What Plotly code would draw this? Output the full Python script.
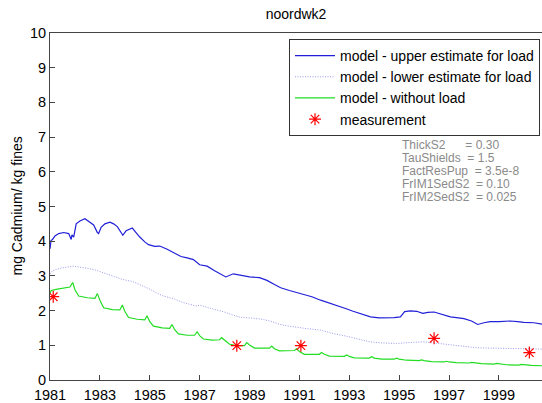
import plotly.graph_objects as go

# ---- data ----
upper_t = [1981.00, 1981.04, 1981.10, 1981.20, 1981.35, 1981.55, 1981.75, 1981.85, 1981.88, 1981.95,
           1982.05, 1982.20, 1982.40, 1982.55, 1982.75, 1982.90, 1982.95, 1983.05, 1983.20, 1983.40,
           1983.55, 1983.70, 1983.85, 1983.92, 1984.05, 1984.30, 1984.45, 1984.60, 1984.80, 1984.95,
           1985.20, 1985.40, 1985.70, 1986.00, 1986.25, 1986.50, 1986.75, 1987.00, 1987.30, 1987.60,
           1987.85, 1988.05, 1988.35, 1988.70, 1989.00, 1989.40, 1989.70, 1990.00, 1990.25, 1990.60,
           1990.90, 1991.15, 1991.50, 1991.85, 1992.20, 1992.50, 1992.85, 1993.15, 1993.50, 1993.85,
           1994.20, 1994.50, 1994.80, 1995.05, 1995.22, 1995.45, 1995.70, 1995.95, 1996.15, 1996.40,
           1996.70, 1997.05, 1997.30, 1997.60, 1997.90, 1998.15, 1998.40, 1998.65, 1999.00, 1999.45,
           1999.75, 2000.00, 2000.40, 2000.73]
upper_v = [3.78, 4.02, 4.05, 4.15, 4.22, 4.25, 4.22, 4.05, 4.18, 4.12,
           4.50, 4.58, 4.65, 4.58, 4.47, 4.25, 4.22, 4.40, 4.50, 4.55,
           4.50, 4.42, 4.22, 4.17, 4.30, 4.38, 4.25, 4.12, 3.98, 3.90,
           3.85, 3.86, 3.77, 3.65, 3.56, 3.52, 3.47, 3.32, 3.28, 3.15,
           3.05, 2.97, 3.06, 3.02, 2.97, 2.95, 2.87, 2.75, 2.66, 2.58,
           2.52, 2.46, 2.40, 2.30, 2.22, 2.16, 2.06, 1.98, 1.90, 1.82,
           1.79, 1.79, 1.80, 1.82, 1.97, 1.99, 1.98, 1.92, 1.95, 1.96,
           1.89, 1.82, 1.80, 1.77, 1.70, 1.60, 1.65, 1.68, 1.68, 1.70,
           1.68, 1.66, 1.65, 1.61]

lower_t = [1981.00, 1981.10, 1981.40, 1981.70, 1981.93, 1982.20, 1982.50, 1982.87, 1983.20, 1983.54,
           1983.90, 1984.34, 1984.70, 1985.00, 1985.30, 1985.54, 1985.94, 1986.30, 1986.88, 1987.00,
           1987.50, 1987.95, 1988.30, 1988.62, 1989.15, 1989.50, 1989.82, 1990.22, 1990.60, 1990.89,
           1991.30, 1991.83, 1992.40, 1992.90, 1993.40, 1993.83, 1994.30, 1994.90, 1995.40, 1995.97,
           1996.50, 1997.04, 1997.60, 1998.10, 1998.60, 1999.18, 1999.80, 2000.73]
lower_v = [3.05, 3.15, 3.22, 3.25, 3.28, 3.25, 3.22, 3.16, 3.07, 2.98,
           2.90, 2.83, 2.72, 2.62, 2.50, 2.42, 2.35, 2.24, 2.13, 2.16,
           2.05, 1.97, 1.88, 1.81, 1.78, 1.75, 1.70, 1.60, 1.55, 1.53,
           1.48, 1.44, 1.33, 1.26, 1.17, 1.10, 1.07, 1.05, 1.08, 1.10,
           1.06, 1.01, 0.97, 0.93, 0.92, 0.91, 0.90, 0.89]

noload_t = [1981.00, 1981.05, 1981.30, 1981.60, 1981.80, 1981.91, 1982.00, 1982.15, 1982.50, 1982.80,
            1982.90, 1983.00, 1983.15, 1983.50, 1983.80, 1983.90, 1984.00, 1984.15, 1984.50, 1984.80,
            1984.89, 1985.00, 1985.15, 1985.50, 1985.80, 1985.89, 1986.00, 1986.15, 1986.50, 1986.80,
            1986.90, 1987.00, 1987.15, 1987.50, 1987.80, 1987.88, 1988.00, 1988.20, 1988.50, 1988.80,
            1988.89, 1989.00, 1989.20, 1989.50, 1989.80, 1989.89, 1990.00, 1990.20, 1990.50, 1990.80,
            1990.89, 1991.00, 1991.20, 1991.50, 1991.80, 1991.89, 1992.00, 1992.20, 1992.50, 1992.80,
            1992.90, 1993.00, 1993.20, 1993.50, 1993.80, 1993.90, 1994.00, 1994.30, 1994.80, 1994.90,
            1995.00, 1995.30, 1995.80, 1995.90, 1996.00, 1996.30, 1996.80, 1996.90, 1997.00, 1997.30,
            1997.80, 1997.90, 1998.30, 1998.80, 1998.90, 1999.30, 1999.80, 1999.90, 2000.30, 2000.73]
noload_v = [2.50, 2.58, 2.62, 2.65, 2.68, 2.81, 2.60, 2.42, 2.37, 2.35,
            2.49, 2.30, 2.08, 2.03, 2.02, 2.16, 1.98, 1.80, 1.75, 1.73,
            1.85, 1.68, 1.55, 1.50, 1.49, 1.60, 1.45, 1.33, 1.29, 1.29,
            1.39, 1.28, 1.18, 1.15, 1.16, 1.22, 1.14, 1.03, 0.99, 0.99,
            1.08, 1.01, 0.92, 0.91, 0.92, 0.98, 0.90, 0.84, 0.84, 0.85,
            0.90, 0.82, 0.74, 0.73, 0.74, 0.79, 0.74, 0.69, 0.68, 0.68,
            0.72, 0.68, 0.64, 0.63, 0.63, 0.67, 0.63, 0.60, 0.60, 0.63,
            0.60, 0.57, 0.56, 0.58, 0.56, 0.53, 0.52, 0.54, 0.52, 0.50,
            0.49, 0.51, 0.47, 0.46, 0.48, 0.44, 0.43, 0.45, 0.42, 0.41]

meas_t = [1981.13, 1988.49, 1991.06, 1996.40, 2000.22]
meas_v = [2.40, 0.99, 0.99, 1.20, 0.79]

params = ["ThickS2\u00a0\u00a0\u00a0\u00a0\u00a0\u00a0= 0.30",
          "TauShields\u00a0\u00a0= 1.5",
          "FactResPup\u00a0\u00a0= 3.5e-8",
          "FrIM1SedS2\u00a0\u00a0= 0.10",
          "FrIM2SedS2\u00a0\u00a0= 0.025"]

x_ticks = [1981, 1983, 1985, 1987, 1989, 1991, 1993, 1995, 1997, 1999]
y_ticks = list(range(0, 11))

FONT = "Liberation Sans, Arial, sans-serif"

fig = go.Figure()
fig.add_trace(go.Scatter(x=upper_t, y=upper_v, mode="lines",
                         name="model - upper estimate for load",
                         line=dict(color="#2020d8", width=1.2)))
fig.add_trace(go.Scatter(x=lower_t, y=lower_v, mode="lines",
                         name="model - lower estimate for load",
                         line=dict(color="#9a9aee", width=1, dash="1px,1.5px")))
fig.add_trace(go.Scatter(x=noload_t, y=noload_v, mode="lines",
                         name="model - without load",
                         line=dict(color="#22dd22", width=1.2)))
fig.add_trace(go.Scatter(x=meas_t, y=meas_v, mode="markers",
                         name="measurement",
                         marker=dict(symbol="asterisk-open", size=10, color="red",
                                     line=dict(color="red", width=1.2))))

W, H = 542, 403
ml, mt, mb, mr = 50, 33, 21, 0
ph = H - mt - mb
pw = W - ml - mr

for i, txt in enumerate(params):
    ypix = 146 + i * 13
    fig.add_annotation(x=(400 - ml) / pw, y=1 - (ypix - mt) / ph, xref="paper", yref="paper",
                       text=txt, showarrow=False, xanchor="left", yanchor="middle",
                       font=dict(family=FONT, size=12, color="#8a8a8a"))

fig.add_annotation(x=(16 - ml) / pw, y=0.5, xref="paper", yref="paper",
                   text="mg Cadmium/ kg fines", textangle=-90, showarrow=False,
                   xanchor="center", yanchor="middle",
                   font=dict(family=FONT, size=14, color="black"))

fig.update_layout(
    width=W, height=H,
    margin=dict(l=ml, r=mr, t=mt, b=mb, pad=0),
    paper_bgcolor="white", plot_bgcolor="white",
    font=dict(family=FONT, size=14, color="black"),
    title=dict(text="noordwk2", x=(ml + pw / 2) / W, xanchor="center",
               y=1 - 14 / H, yanchor="middle", font=dict(size=14, family=FONT)),
    showlegend=True,
    legend=dict(x=1 - 2 / pw, xanchor="right", y=1 - 6 / ph, yanchor="top",
                bordercolor="#333", borderwidth=1, bgcolor="white",
                font=dict(family=FONT, size=14), tracegroupgap=0,
                itemwidth=40),
    xaxis=dict(range=[1981, 1981 + pw / 24.94], tickvals=x_ticks,
               ticktext=[str(v) for v in x_ticks],
               showgrid=False, zeroline=False, showline=True, linecolor="#444",
               linewidth=1, mirror=True, ticks="inside", ticklen=5, tickcolor="#444",
               tickfont=dict(size=14.5), ticklabelstandoff=2),
    yaxis=dict(range=[0, 10], tickvals=y_ticks, showgrid=False, zeroline=False,
               showline=True, linecolor="#444", linewidth=1, mirror=False,
               ticks="inside", ticklen=5, tickcolor="#444",
               tickfont=dict(size=14.5)),
)

fig.write_html("out.html")
